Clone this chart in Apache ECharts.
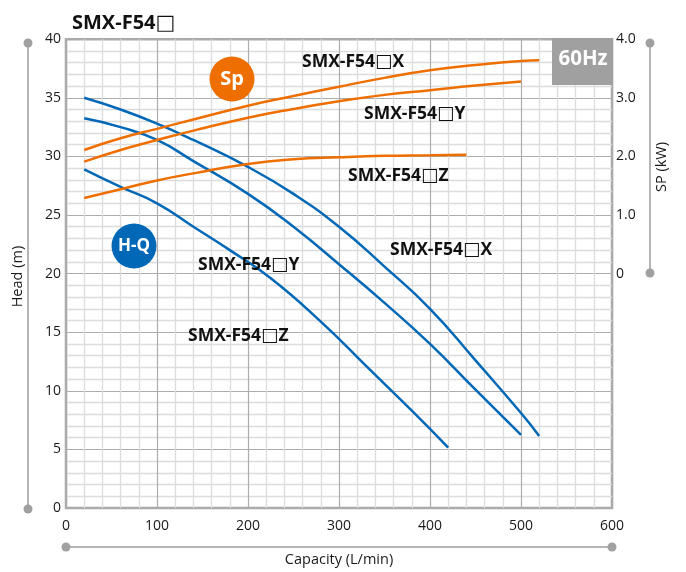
<!DOCTYPE html>
<html><head><meta charset="utf-8">
<style>html,body{margin:0;padding:0;background:#fff}#c{width:686px;height:572px}</style>
<script src="https://cdn.jsdelivr.net/npm/echarts@6/dist/echarts.min.js"></script>
</head><body><div id="c"></div>
<script>
const FONT = '"Open Sans","Noto Sans",sans-serif';
const qHX = [20,60,100,140,200,250,300,350,400,450,500,520];
const hX  = [35.0,34.0,32.8,31.4,29.1,26.8,24.0,20.6,17.0,12.6,8.1,6.15];
const qHY = [20,60,100,140,200,250,300,350,400,450,500];
const hY  = [33.25,32.5,31.4,29.6,26.8,24.0,20.8,17.5,14.0,10.1,6.24];
const qHZ = [20,60,100,140,180,225,280,330,380,420];
const hZ  = [28.9,27.4,26.0,24.0,22.0,19.6,15.9,12.1,8.3,5.16];
const qSX = [20,60,100,140,200,250,300,350,400,450,500,520];
const sX  = [2.11,2.31,2.47,2.63,2.865,3.03,3.19,3.34,3.47,3.56,3.63,3.64];
const qSY = [20,60,100,140,200,250,300,350,400,450,500];
const sY  = [1.91,2.11,2.28,2.44,2.66,2.81,2.94,3.05,3.13,3.21,3.28];
const qSZ = [20,60,100,140,200,250,300,350,400,440];
const sZ  = [1.29,1.44,1.59,1.71,1.87,1.95,1.985,2.01,2.02,2.03];
const BLUE='#0068b7', ORANGE='#ee6f00', GREY='#a9a9a9', BAR='#b5b5b5', DOT='#a0a0a0', TXT='#1a1a1a';
const zip=(a,b)=>a.map((v,i)=>[v,b[i]]);
const line=(name,q,v,color,yi)=>({name,type:'line',data:zip(q,v),yAxisIndex:yi,showSymbol:false,symbol:'none',smooth:0.5,lineStyle:{color,width:2.5},z:5,silent:true});
const lbl=(x,y,suffix,size)=>{const s=size||17.5;return {type:'text',left:x,top:y-Math.round(s*0.46),z:30,silent:true,style:{
  text:'{t|SMX-F54}{b|□}'+(suffix?'{t|'+suffix+'}':''),
  rich:{t:{fill:'#111',font:'bold '+s+'px "Open Sans","Noto Sans",sans-serif',lineHeight:s*1.25},
        b:{fill:'#111',font:'bold '+(s*1.05)+'px "DejaVu Sans",sans-serif',lineHeight:s*1.25}}}};};
const bar=(x1,y1,x2,y2)=>[
 {type:'line',silent:true,z:1,shape:{x1,y1,x2,y2},style:{stroke:BAR,lineWidth:2}},
 {type:'circle',silent:true,z:2,shape:{cx:x1,cy:y1,r:4.5},style:{fill:DOT}},
 {type:'circle',silent:true,z:2,shape:{cx:x2,cy:y2,r:4.5},style:{fill:DOT}}];
const badge=(cx,cy,text,color,size)=>[
 {type:'circle',silent:true,z:20,shape:{cx,cy,r:22.5},style:{fill:color}},
 {type:'text',silent:true,z:21,x:cx,y:cy,style:{text,fill:'#fff',font:'bold '+size+'px '+FONT,align:'center',verticalAlign:'middle'}}];
const chart=echarts.init(document.getElementById('c'),null,{renderer:'canvas'});
chart.setOption({
 animation:false,backgroundColor:'#fff',
 grid:{left:66,right:74,top:39.2,height:470.2,containLabel:false,show:true,borderColor:GREY,borderWidth:2.5,backgroundColor:'transparent'},
 xAxis:{type:'value',min:0,max:600,interval:100,name:'Capacity (L/min)',nameLocation:'middle',nameGap:44,
  nameTextStyle:{color:TXT,fontSize:14.5,fontFamily:FONT},
  axisLine:{show:false},axisTick:{show:false},axisLabel:{color:TXT,fontSize:14,fontFamily:FONT,margin:11},
  splitLine:{show:true,lineStyle:{color:'#acacac',width:1.2}},
  minorTick:{show:false,splitNumber:5},minorSplitLine:{show:true,lineStyle:{color:'#dcdcdc',width:1.3}}},
 yAxis:[
  {type:'value',min:0,max:40,interval:5,name:'Head (m)',nameLocation:'middle',nameGap:41,
   nameTextStyle:{color:TXT,fontSize:14.5,fontFamily:FONT,padding:[0,6,0,0]},
   axisLine:{show:false},axisTick:{show:false},axisLabel:{color:TXT,fontSize:14,fontFamily:FONT,margin:5,padding:[2,0,0,0]},
   splitLine:{show:true,lineStyle:{color:'#acacac',width:1.2}},
   minorTick:{show:false,splitNumber:5},minorSplitLine:{show:true,lineStyle:{color:'#dcdcdc',width:1.3}}},
  {type:'value',min:-4,max:4,interval:1,position:'right',
   axisLine:{show:false},axisTick:{show:false},splitLine:{show:false},
   axisLabel:{color:TXT,fontSize:14,fontFamily:FONT,margin:4,padding:[2,0,0,0],formatter:v=>v<0?'':(v===0?'0':v.toFixed(1))}}
 ],
 series:[
  line('H-Q X',qHX,hX,BLUE,0),line('H-Q Y',qHY,hY,BLUE,0),line('H-Q Z',qHZ,hZ,BLUE,0),
  line('Sp X',qSX,sX,ORANGE,1),line('Sp Y',qSY,sY,ORANGE,1),line('Sp Z',qSZ,sZ,ORANGE,1)
 ],
 graphic:[
  ...bar(28,43,28,509),...bar(650,43,650,273),...bar(66,547,612,547),
  {type:'rect',silent:true,z:20,shape:{x:552,y:38,width:61,height:47},style:{fill:'#a0a0a0'}},
  {type:'text',silent:true,z:21,x:583,y:59,style:{text:'60Hz',fill:'#fff',font:'bold 20.5px '+FONT,align:'center',verticalAlign:'middle'}},
  ...badge(232,79,'Sp',ORANGE,20),...badge(134,246,'H-Q',BLUE,17),
  lbl(72,22,'',20),
  lbl(302,61,'X'),lbl(364,113,'Y'),lbl(348,175,'Z'),
  lbl(390,249,'X'),lbl(198,264,'Y'),lbl(188,335,'Z'),
  {type:'text',silent:true,z:21,x:662,y:167,rotation:Math.PI/2,style:{text:'SP (kW)',fill:TXT,font:'14.5px '+FONT,align:'center',verticalAlign:'middle'}}
 ]
});
</script></body></html>
